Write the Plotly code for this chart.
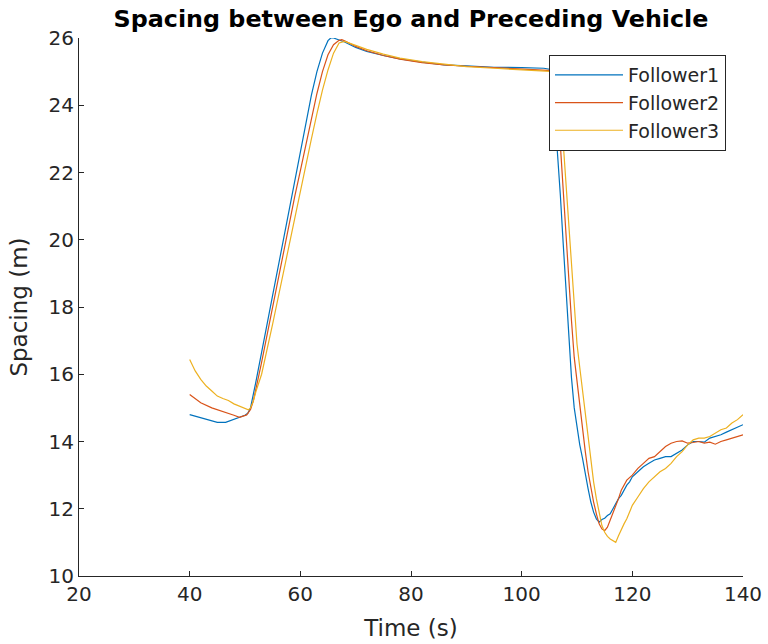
import plotly.graph_objects as go

# Follower1 (blue)
t1 = [40, 42, 44, 45, 46.5, 48, 50, 50.5, 51, 52, 53, 54, 55, 56, 57, 58, 59, 60, 61, 62, 63, 64, 65, 65.5,
      66, 67, 68, 70, 72, 75, 78, 82, 86, 90, 95, 100, 104, 105, 105.5, 106, 106.5, 107, 107.5, 108, 108.5,
      109, 109.5, 110, 110.5, 111, 111.5, 112, 112.5, 113, 113.5, 114, 114.5, 115, 115.5, 116, 116.5, 117,
      117.5, 118, 118.5, 119, 119.5, 120, 121, 122, 123, 124, 125, 126, 127, 128, 129, 130, 131, 132, 133,
      134, 135, 136, 137, 138, 139, 140]
y1 = [14.8, 14.7, 14.6, 14.57, 14.57, 14.65, 14.78, 14.84, 15.0, 15.8, 16.6, 17.5, 18.35, 19.2, 20.05, 20.9,
      21.8, 22.67, 23.5, 24.3, 25.0, 25.55, 25.92, 26.0, 26.0, 25.95, 25.88, 25.72, 25.6, 25.48, 25.38, 25.28,
      25.2, 25.17, 25.13, 25.12, 25.1, 25.07, 24.6, 23.7, 22.6, 21.3, 19.9, 18.5, 17.1, 15.9, 15.0, 14.4, 13.9,
      13.5, 13.0, 12.6, 12.2, 11.9, 11.7, 11.6, 11.68, 11.72, 11.8, 11.85, 12.0, 12.15, 12.3, 12.4, 12.55,
      12.7, 12.8, 12.95, 13.1, 13.25, 13.35, 13.45, 13.5, 13.55, 13.55, 13.65, 13.75, 13.9, 14.0, 14.0, 13.98,
      14.1, 14.15, 14.2, 14.28, 14.35, 14.42, 14.5]

# Follower2 (red)
t2 = [40, 42, 44, 46, 48, 49, 50.3, 51, 51.5, 53, 55, 57, 59, 60, 61, 62, 63, 64, 65, 66, 67, 67.5, 68, 70, 72,
      75, 78, 82, 86, 90, 95, 100, 104, 105.5, 106, 106.5, 107, 107.5, 108, 108.5, 109, 109.5, 110, 110.5,
      111, 111.5, 112, 112.5, 113, 113.5, 114, 114.5, 115, 115.5, 116, 116.5, 117, 117.5, 118, 118.5, 119,
      120, 121, 122, 123, 124, 125, 126, 127, 128, 129, 130, 131, 132, 133, 134, 135, 136, 137, 138, 139, 140]
y2 = [15.4, 15.15, 15.0, 14.9, 14.78, 14.72, 14.79, 14.95, 15.2, 16.35, 18.0, 19.7, 21.3, 22.05, 22.85, 23.6,
      24.35, 25.0, 25.5, 25.8, 25.93, 25.95, 25.92, 25.75, 25.62, 25.48, 25.37, 25.27, 25.2, 25.16, 25.12,
      25.08, 25.06, 25.03, 24.7, 23.9, 22.8, 21.5, 20.1, 18.7, 17.6, 16.5, 15.8, 15.0, 14.3, 13.7, 13.1,
      12.6, 12.2, 11.85, 11.55, 11.4, 11.35, 11.45, 11.65, 11.85, 12.05, 12.3, 12.55, 12.7, 12.85, 13.0,
      13.2, 13.35, 13.5, 13.55, 13.7, 13.85, 13.95, 14.0, 14.02, 13.95, 13.97, 14.0, 13.95, 13.98, 13.92,
      14.0, 14.05, 14.1, 14.15, 14.2]

# Follower3 (yellow)
t3 = [40, 41, 42, 43, 44, 45, 46, 47, 48, 49, 50, 50.6, 51, 51.5, 52, 53, 55, 57, 59, 60, 61, 62, 63, 64, 65,
      66, 67, 68, 70, 72, 75, 78, 82, 86, 90, 95, 100, 104, 106, 106.5, 107, 107.5, 108, 108.5, 109, 109.5,
      110, 110.5, 111, 111.5, 112, 112.5, 113, 113.5, 114, 114.5, 115, 115.5, 116, 116.5, 117, 117.5, 118,
      118.5, 119, 119.5, 120, 121, 122, 123, 124, 125, 126, 127, 128, 129, 130, 131, 132, 133, 134, 135, 136,
      137, 138, 139, 140]
y3 = [16.44, 16.1, 15.85, 15.65, 15.5, 15.35, 15.28, 15.22, 15.12, 15.05, 14.96, 14.94, 15.0, 15.2, 15.5,
      16.0, 17.5, 19.1, 20.7, 21.4, 22.2, 23.0, 23.75, 24.45, 25.05, 25.55, 25.85, 25.9, 25.78, 25.66, 25.52,
      25.4, 25.3, 25.22, 25.15, 25.1, 25.05, 25.03, 25.0, 24.6, 23.9, 22.9, 21.7, 20.4, 19.1, 17.8, 16.9,
      16.2, 15.5, 14.8, 14.1, 13.4, 12.8, 12.3, 11.85, 11.5, 11.3, 11.18, 11.1, 11.05, 11.0, 11.2, 11.4,
      11.55, 11.7, 11.9, 12.1, 12.35, 12.6, 12.8, 12.95, 13.1, 13.2, 13.35, 13.55, 13.7, 13.9, 14.05, 14.1,
      14.1, 14.15, 14.25, 14.35, 14.4, 14.55, 14.65, 14.8]

names = ["Follower1", "Follower2", "Follower3"]
colors = ["#0072BD", "#D95319", "#EDB120"]

x_ticks = [20, 40, 60, 80, 100, 120, 140]
y_ticks = [10, 12, 14, 16, 18, 20, 22, 24, 26]

FONT = "DejaVu Sans"
TXT = "#262626"

fig = go.Figure()
for t, y, n, c in zip([t1, t2, t3], [y1, y2, y3], names, colors):
    fig.add_trace(go.Scatter(x=t, y=y, mode="lines", name=n, line=dict(color=c, width=1.2)))

axis_common = dict(
    showgrid=False, zeroline=False, showline=True, linecolor=TXT, linewidth=1,
    ticks="inside", ticklen=5, tickcolor=TXT, tickwidth=1,
    tickfont=dict(family=FONT, size=20, color=TXT),
    mirror=False, automargin=False,
)

fig.update_layout(
    width=768, height=644,
    margin=dict(l=79, r=25, t=38, b=68),
    paper_bgcolor="white", plot_bgcolor="white",
    title=dict(text="<b>Spacing between Ego and Preceding Vehicle</b>", x=411 / 768, xanchor="center",
               y=1 - 19 / 644, yanchor="middle",
               font=dict(family=FONT, size=23.8, color="black")),
    xaxis=dict(range=[20, 140], tickvals=x_ticks, title=dict(text="Time (s)", standoff=14,
               font=dict(family=FONT, size=23, color=TXT)), **axis_common),
    yaxis=dict(range=[10, 26], tickvals=y_ticks, title=dict(text="Spacing (m)", standoff=14,
               font=dict(family=FONT, size=23, color=TXT)), **axis_common),
    legend=dict(x=(726 - 79) / 664, y=(576 - 55) / 538, xanchor="right", yanchor="top", bgcolor="white",
                bordercolor=TXT, borderwidth=1,
                font=dict(family=FONT, size=19, color=TXT),
                tracegroupgap=0, itemwidth=68),
    showlegend=True,
)

fig.write_html("out.html")
